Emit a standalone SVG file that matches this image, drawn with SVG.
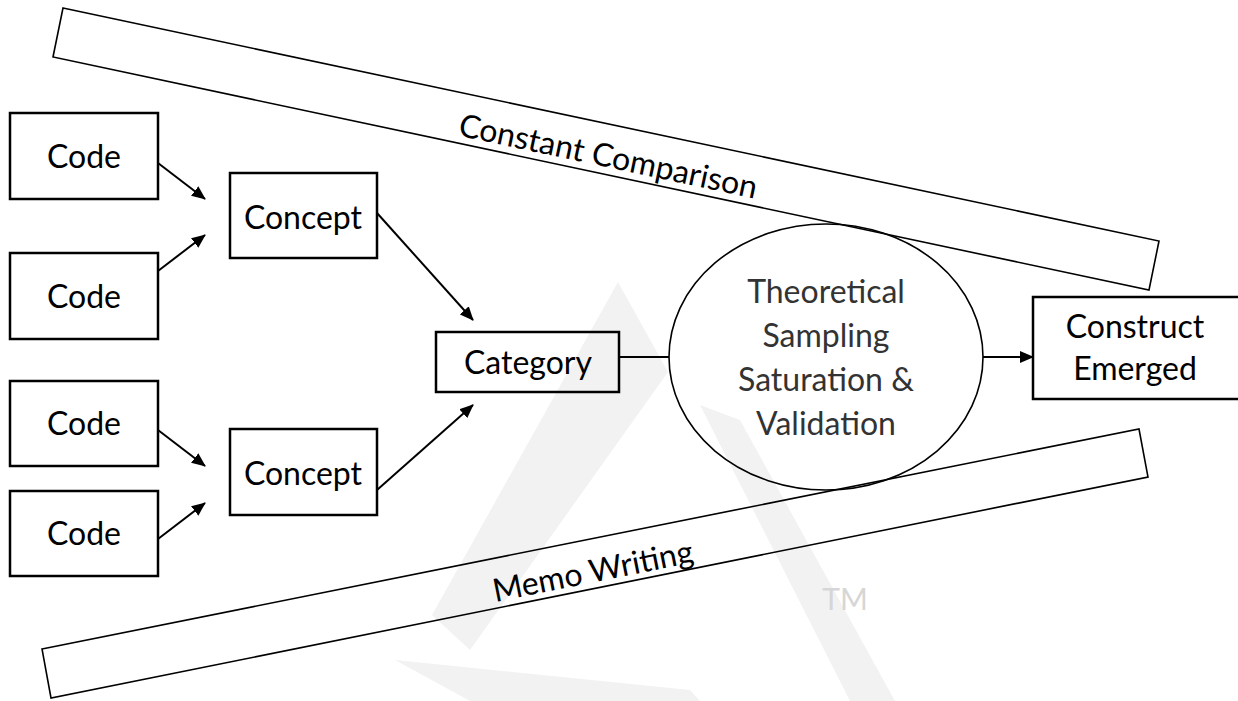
<svg xmlns="http://www.w3.org/2000/svg" width="1238" height="701" viewBox="0 0 1238 701">
<defs>
<style>
.box{fill:none;stroke:#000;stroke-width:2.5}
.band{fill:none;stroke:#000;stroke-width:1.6}
.lbl{font-family:Lato,"Open Sans","Liberation Sans",sans-serif;font-size:32px;fill:#000;text-anchor:middle}
.soft{fill:#333}
.arr{stroke:#000;stroke-width:2;fill:none}
.wm{fill:#f2f2f2}
</style>
<marker id="ah" markerUnits="userSpaceOnUse" markerWidth="14" markerHeight="12" refX="13" refY="6" orient="auto">
<path d="M0,0 L14,6 L0,12 z" fill="#000"/>
</marker>
</defs>
<rect width="1238" height="701" fill="#fff"/>
<g id="watermark">
<polygon class="wm" points="618,282 668,372 470,650 432,615"/>
<polygon class="wm" points="700,405 740,420 895,701 850,701"/>
<polygon class="wm" points="395,660 690,690 700,701 470,701"/>
<text x="845" y="610" font-family="Lato,'Open Sans',sans-serif" font-size="30" fill="#d6d6d6" text-anchor="middle">TM</text>
</g>
<g id="constant-comparison">
<polygon class="band" points="63,8 1159,241 1149,290 53,57"/>
<text class="lbl" transform="translate(606,167) rotate(12)">Constant Comparison</text>
</g>
<g id="memo-writing">
<polygon class="band" points="42,649 1139,429 1148,477 51,698"/>
<text class="lbl" transform="translate(595,582) rotate(-11.3)">Memo Writing</text>
</g>
<g id="connectors">
<line class="arr" x1="158" y1="163" x2="205" y2="199" marker-end="url(#ah)"/>
<line class="arr" x1="158" y1="271" x2="205" y2="235" marker-end="url(#ah)"/>
<line class="arr" x1="158" y1="430" x2="205" y2="466" marker-end="url(#ah)"/>
<line class="arr" x1="158" y1="539" x2="205" y2="503" marker-end="url(#ah)"/>
<line class="arr" x1="377" y1="213" x2="473" y2="320" marker-end="url(#ah)"/>
<line class="arr" x1="377" y1="490" x2="473" y2="405" marker-end="url(#ah)"/>
<line class="arr" x1="619" y1="357" x2="669" y2="357"/>
<line class="arr" x1="983" y1="357" x2="1033" y2="357" marker-end="url(#ah)"/>
</g>
<g id="code1"><rect class="box" x="10" y="113" width="148" height="86"/><text class="lbl" x="84" y="168">Code</text></g>
<g id="code2"><rect class="box" x="10" y="253" width="148" height="86"/><text class="lbl" x="84" y="308">Code</text></g>
<g id="code3"><rect class="box" x="10" y="381" width="148" height="85"/><text class="lbl" x="84" y="435">Code</text></g>
<g id="code4"><rect class="box" x="10" y="491" width="148" height="85"/><text class="lbl" x="84" y="545">Code</text></g>
<g id="concept1"><rect class="box" x="230" y="173" width="147" height="85"/><text class="lbl" x="303" y="229">Concept</text></g>
<g id="concept2"><rect class="box" x="230" y="429" width="147" height="86"/><text class="lbl" x="303" y="485">Concept</text></g>
<g id="category"><rect class="box" x="436" y="332" width="183" height="60"/><text class="lbl" x="528" y="374">Category</text></g>
<g id="sampling">
<ellipse cx="826" cy="357" rx="157" ry="133" fill="none" stroke="#000" stroke-width="1.6"/>
<text class="lbl soft" x="826" y="303">Theoretical</text>
<text class="lbl soft" x="826" y="347">Sampling</text>
<text class="lbl soft" x="826" y="391">Saturation &amp;</text>
<text class="lbl soft" x="826" y="435">Validation</text>
</g>
<g id="construct"><rect class="box" x="1033" y="297" width="215" height="102"/><text class="lbl" x="1135" y="338">Construct</text><text class="lbl" x="1135" y="380">Emerged</text></g>
</svg>
